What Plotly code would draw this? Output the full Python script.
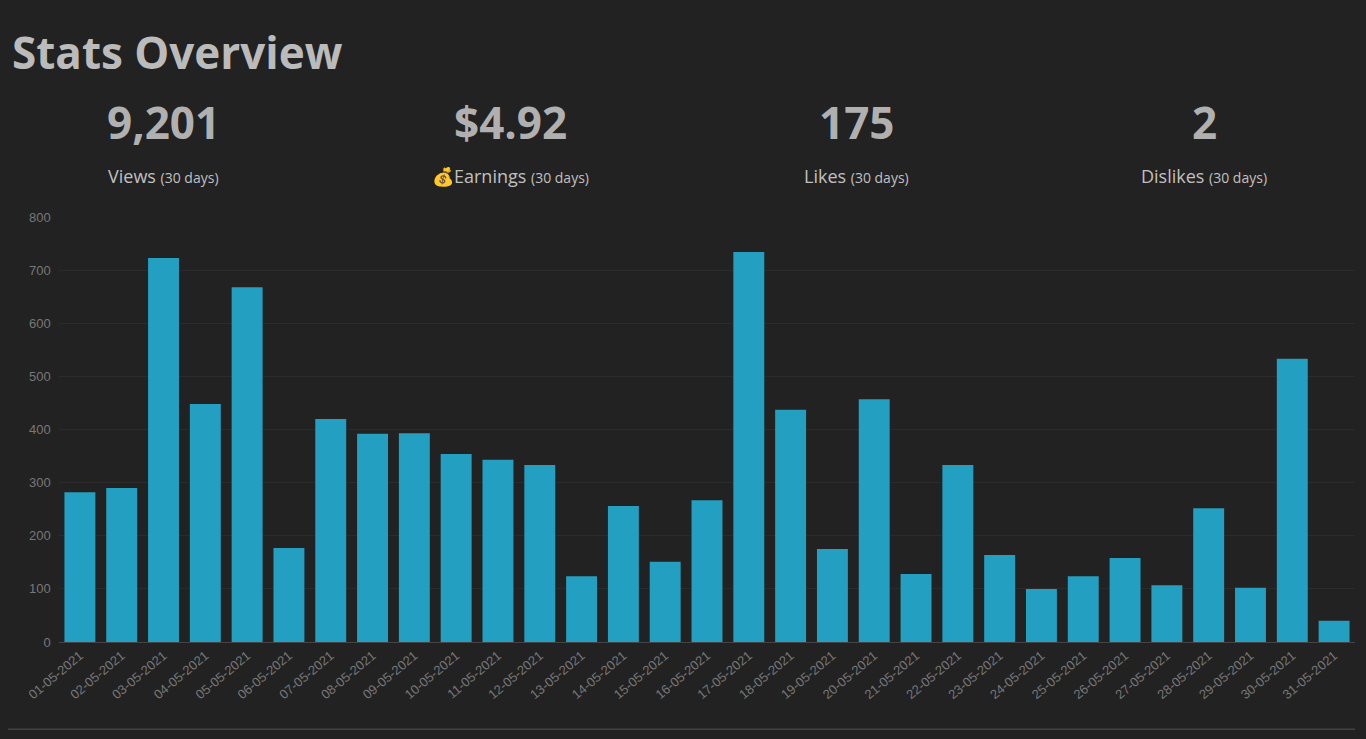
import plotly.graph_objects as go

dates = ["%02d-05-2021" % d for d in range(1, 32)]
views = [282, 290, 723, 448, 668, 177, 420, 392, 393, 354, 343, 333, 124, 256, 151, 267,
         734, 437, 175, 457, 128, 333, 164, 100, 124, 158, 107, 252, 102, 533, 40]

stat_values = ["9,201", "$4.92", "175", "2"]
stat_labels = ["Views", "\U0001F4B0Earnings", "Likes", "Dislikes"]
stat_x = [163, 510, 856, 1204]

fig = go.Figure(go.Bar(x=dates, y=views, marker_color="#239fc2", marker_line_width=0,
                       hoverinfo="x+y"))

fig.update_layout(
    width=1350, height=723,
    paper_bgcolor="#222222", plot_bgcolor="#222222",
    margin=dict(l=51, r=3, t=209, b=89),
    bargap=0.26,
    showlegend=False,
    font=dict(family="Liberation Sans, Arial", color="#777777", size=13),
)
fig.update_xaxes(tickangle=-40, showgrid=False, showline=True, linecolor="#444444",
                 tickfont=dict(size=13, color="#777777"), ticks="")
fig.update_yaxes(range=[0, 800], dtick=100, gridcolor="#2b2b2b", zeroline=False,
                 tickfont=dict(size=13, color="#777777"), ticksuffix="  ")

fig.add_annotation(xref="paper", yref="paper", x=-0.038, y=1.388, xanchor="left", yanchor="middle",
                   text="<b>Stats Overview</b>", showarrow=False,
                   font=dict(family="Open Sans", size=44, color="#bbbbbb"))
for v, lab, x in zip(stat_values, stat_labels, stat_x):
    xp = (x - 8 - 51) / 1296
    fig.add_annotation(xref="paper", yref="paper", x=xp, y=1.224, xanchor="center", yanchor="middle",
                       text="<b>%s</b>" % v, showarrow=False,
                       font=dict(family="Open Sans", size=44, color="#b0b0b0"))
    fig.add_annotation(xref="paper", yref="paper", x=xp, y=1.096, xanchor="center", yanchor="middle",
                       text="%s <span style='font-size:14px'>(30 days)</span>" % lab, showarrow=False,
                       font=dict(family="Open Sans", size=18, color="#c0c0c0"))
fig.add_shape(type="line", xref="paper", yref="paper", x0=-0.04, x1=1.0, y0=-0.205, y1=-0.205,
              line=dict(color="#555555", width=1))

fig.write_html("out.html", post_script="document.body.style.background='#222222';")
